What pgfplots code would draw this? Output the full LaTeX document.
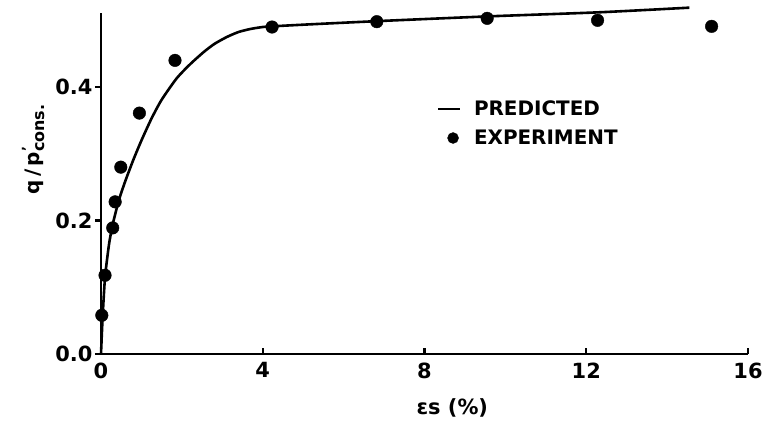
\documentclass[border=0pt]{standalone}
\usepackage{fontspec}
\setmainfont{DejaVu Sans}
\usepackage{pgfplots}
\pgfplotsset{compat=1.18}

% Predicted curve q/p'cons versus strain (%)
\pgfplotstableread{
x      y
0.00   0.000
0.04   0.055
0.10   0.115
0.20   0.165
0.30   0.197
0.45   0.232
0.60   0.259
0.80   0.291
1.00   0.320
1.25   0.353
1.50   0.381
1.87   0.413
2.20   0.434
2.53   0.452
2.80   0.4645
3.11   0.475
3.40   0.4825
3.69   0.487
4.00   0.490
4.23   0.491
5.17   0.494
6.90   0.499
9.60   0.506
12.30  0.512
14.55  0.519
}\predicted

% Measured points
\pgfplotstableread{
x      y
0.02   0.058
0.10   0.118
0.29   0.189
0.35   0.228
0.49   0.280
0.95   0.361
1.83   0.440
4.23   0.490
6.82   0.498
9.55   0.503
12.28  0.500
15.10  0.491
}\experiment

\begin{document}
\begin{tikzpicture}
\useasboundingbox (0,0) rectangle (763bp,423bp);
\begin{axis}[
  at={(101bp,69bp)}, anchor=south west,
  scale only axis,
  width=647bp, height=341bp,
  xmin=0, xmax=16, ymin=0, ymax=0.511,
  clip=false,
  axis lines=left,
  axis line style={-, line width=2.8bp, black},
  xtick={0,4,8,12,16},
  xticklabels={0,4,8,12,16},
  ytick={0,0.2,0.4},
  yticklabels={0.0,0.2,0.4},
  tick align=inside,
  major tick length=6bp,
  every tick/.style={line width=2.2bp, black},
  ytick style={xshift=-6bp},
  /pgf/number format/assume math mode=true,
  ticklabel style={font=\bfseries\fontsize{21}{24}\selectfont},
  xticklabel style={yshift=-5bp},
  yticklabel style={xshift=-5bp},
  xlabel={\bfseries\fontsize{21}{24}\selectfont εs (\%)},
  xlabel style={at={(ticklabel cs:0.543)}, yshift=-13bp},
  ylabel={\bfseries\fontsize{20}{24}\selectfont q\,/\,p\rlap{\raisebox{0.75ex}{\fontsize{13}{13}\selectfont '}}\raisebox{-0.45ex}{\fontsize{16}{16}\selectfont cons.}},
  ylabel style={at={(ticklabel cs:0.6)}, yshift=4bp},
  legend style={at={(rel axis cs:0.514,0.755)}, anchor=north west,
    draw=none, fill=none, row sep=9bp,
    font=\bfseries\fontsize{20}{24}\selectfont},
  legend cell align=left,
]
\addplot[black, line width=2.6bp, smooth, tension=0.4,
  legend image code/.code={\draw[black, line width=2.6bp] (0bp,0bp) -- (22bp,0bp);
    \path[draw=none] (0bp,0bp) -- (34bp,0bp);}]
  table[x=x, y=y] {\predicted};
\addlegendentry{PREDICTED}
\addplot[only marks, mark=*, mark size=6.3bp, black,
  legend image code/.code={\fill[black] (15bp,0bp) circle (5.5bp);
    \path[draw=none] (0bp,0bp) -- (34bp,0bp);}]
  table[x=x, y=y] {\experiment};
\addlegendentry{EXPERIMENT}
\end{axis}
\end{tikzpicture}
\end{document}
